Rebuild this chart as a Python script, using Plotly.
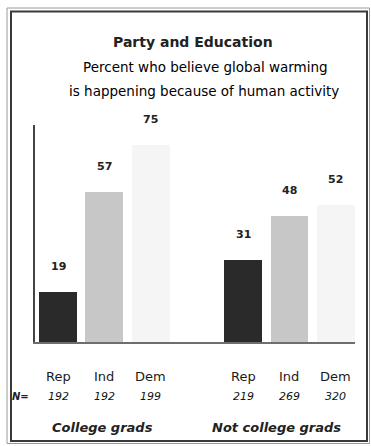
import plotly.graph_objects as go

# Survey results: percent who believe global warming is caused by human activity
parties = ["Rep", "Ind", "Dem"]
groups = ["College grads", "Not college grads"]
college = [19, 57, 75]
not_college = [31, 48, 52]
n_college = [192, 192, 199]
n_not_college = [219, 269, 320]

W, H = 371, 446
FONT = "DejaVu Sans"

# bar slots: three parties per education group, one empty slot between groups
pos_college = [0, 1, 2]
pos_not = [4, 5, 6]
colors = {"Rep": "#2a2a2a", "Ind": "#c7c7c7", "Dem": "#f5f5f5"}


def px(x):
    return x / W


def py(y):
    return 1 - y / H


fig = go.Figure()
for i, p in enumerate(parties):
    vals = [college[i], not_college[i]]
    fig.add_trace(go.Bar(
        x=[pos_college[i], pos_not[i]],
        y=vals,
        width=0.82,
        marker=dict(color=colors[p], line=dict(width=0)),
        showlegend=False,
        hoverinfo="skip",
    ))

annotations = []
# value labels above bars
for i, p in enumerate(parties):
    for x, v in ((pos_college[i], college[i]), (pos_not[i], not_college[i])):
        annotations.append(dict(
            x=x, y=v, xref="x", yref="y", text=f"<b>{v}</b>", showarrow=False,
            xanchor="center", yanchor="bottom", yshift=17,
            font=dict(family=FONT, size=11, color="#222"),
        ))

# party names and sample sizes below axis
for i, p in enumerate(parties):
    for x, n in ((pos_college[i], n_college[i]), (pos_not[i], n_not_college[i])):
        annotations.append(dict(
            x=x, y=py(376), xref="x", yref="paper", text=p, showarrow=False,
            xanchor="center", yanchor="middle",
            font=dict(family=FONT, size=13, color="#1a1a1a"),
        ))
        annotations.append(dict(
            x=x, y=py(396), xref="x", yref="paper", text=f"<i>{n}</i>",
            showarrow=False, xanchor="center", yanchor="middle",
            font=dict(family=FONT, size=11, color="#111"),
        ))

annotations.append(dict(
    x=px(20), y=py(396), xref="paper", yref="paper", text="<b><i>N=</i></b>",
    showarrow=False, xanchor="center", yanchor="middle",
    font=dict(family=FONT, size=10, color="#222"),
))

# group labels
for g, center in zip(groups, (102, 276)):
    annotations.append(dict(
        x=px(center), y=py(427), xref="paper", yref="paper",
        text=f"<b><i>{g}</i></b>", showarrow=False,
        xanchor="center", yanchor="middle",
        font=dict(family=FONT, size=13, color="#222"),
    ))

# title block
annotations += [
    dict(x=px(193), y=py(42), xref="paper", yref="paper",
         text="<b>Party and Education</b>", showarrow=False,
         xanchor="center", yanchor="middle",
         font=dict(family=FONT, size=14, color="#222")),
    dict(x=px(205), y=py(67), xref="paper", yref="paper",
         text="Percent who believe global warming", showarrow=False,
         xanchor="center", yanchor="middle",
         font=dict(family=FONT, size=13.5, color="#000")),
    dict(x=px(204), y=py(91), xref="paper", yref="paper",
         text="is happening because of human activity", showarrow=False,
         xanchor="center", yanchor="middle",
         font=dict(family=FONT, size=13.5, color="#000")),
]

shapes = [
    # double frame
    dict(type="rect", xref="paper", yref="paper",
         x0=px(7), y0=py(443.5), x1=px(369.5), y1=py(8),
         line=dict(color="#9a9a9a", width=1)),
    dict(type="rect", xref="paper", yref="paper",
         x0=px(11), y0=py(441), x1=px(367), y1=py(11.5),
         line=dict(color="#3a3a3a", width=2)),
]

fig.update_layout(
    width=W, height=H,
    margin=dict(l=0, r=0, t=0, b=0),
    paper_bgcolor="white", plot_bgcolor="white",
    bargap=0,
    xaxis=dict(
        domain=[px(35), px(355)], range=[-0.497, 6.415],
        showticklabels=False, ticks="", showgrid=False, zeroline=False,
        showline=True, linecolor="#6e6e6e", linewidth=2,
    ),
    yaxis=dict(
        domain=[py(342), py(125)], range=[0, 82.5],
        showticklabels=False, ticks="", showgrid=False, zeroline=False,
        showline=True, linecolor="#444", linewidth=2,
    ),
    annotations=annotations,
    shapes=shapes,
)

fig.write_html("out.html")
